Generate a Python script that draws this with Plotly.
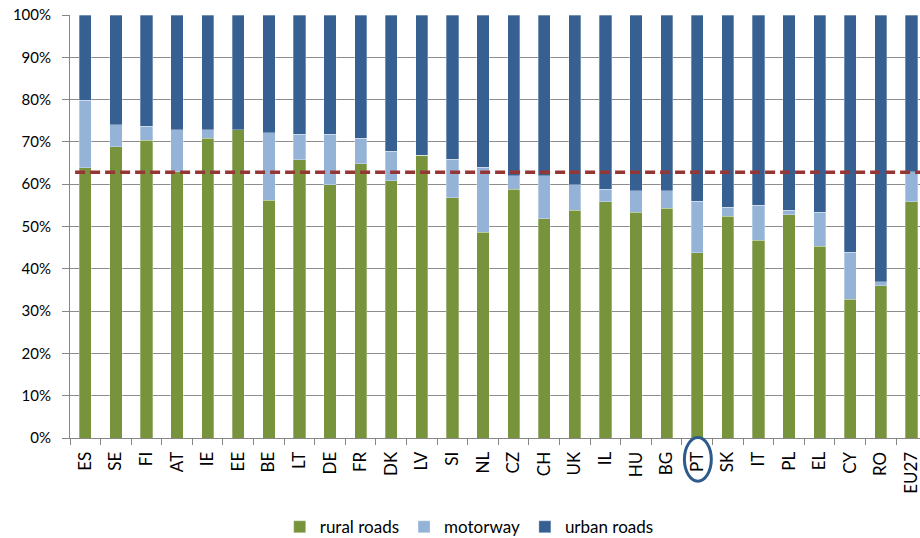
import plotly.graph_objects as go

countries = ["ES", "SE", "FI", "AT", "IE", "EE", "BE", "LT", "DE", "FR", "DK", "LV", "SI", "NL",
             "CZ", "CH", "UK", "IL", "HU", "BG", "PT", "SK", "IT", "PL", "EL", "CY", "RO", "EU27"]
rural = [63.9, 68.8, 70.4, 63.0, 70.9, 72.9, 56.2, 65.8, 59.9, 64.8, 60.8, 66.9, 56.8, 48.7,
         58.8, 51.8, 53.9, 55.8, 53.4, 54.3, 43.8, 52.4, 46.8, 52.8, 45.3, 32.8, 36.0, 55.8]
motorway_top = [79.9, 74.0, 73.7, 72.9, 72.9, 72.9, 72.2, 71.8, 71.8, 70.9, 67.8, 66.9, 65.9, 64.0,
                62.0, 62.0, 59.9, 58.8, 58.5, 58.4, 56.0, 54.6, 55.0, 53.9, 53.4, 43.9, 36.9, 62.9]
motorway = [round(t - r, 1) for t, r in zip(motorway_top, rural)]
urban = [round(100 - t, 1) for t in motorway_top]
eu_average = 62.8
highlight = "PT"

ytick_vals = [0, 10, 20, 30, 40, 50, 60, 70, 80, 90, 100]
ytick_text = [f"{v}%" for v in ytick_vals]

font = "Lato"
fig = go.Figure()
for name, vals, col in [("rural roads", rural, "#77933C"),
                        ("motorway", motorway, "#95B3D7"),
                        ("urban roads", urban, "#376092")]:
    fig.add_trace(go.Bar(x=countries, y=vals, name=name, width=0.4,
                         marker=dict(color=col, line=dict(color="rgba(255,255,255,0.6)", width=0.5))))

fig.add_shape(type="line", xref="paper", yref="y", x0=0.006, x1=1, y0=eu_average, y1=eu_average,
              line=dict(color="#963634", width=3.5, dash="10px,5px"), layer="above")

hi = countries.index(highlight)
fig.add_shape(type="circle", xref="x", yref="paper", x0=hi - 0.42, x1=hi + 0.46,
              y0=0.001, y1=-0.102, line=dict(color="#2E5B8C", width=3))

fig.update_layout(
    width=920, height=538,
    margin=dict(l=70, r=0, t=15, b=100),
    barmode="stack",
    plot_bgcolor="white", paper_bgcolor="white",
    font=dict(family=font, size=15, color="#000000"),
    showlegend=True,
    legend=dict(orientation="h", xref="container", yref="container", x=0.51, y=0.02,
                xanchor="center", yanchor="middle", font=dict(size=17, family=font),
                itemwidth=30, traceorder="normal"),
)
fig.update_xaxes(range=[-0.5, 27.28], tickangle=-90, showline=True, linecolor="#868686",
                 ticks="outside", tickson="boundaries", ticklen=6, tickcolor="#868686",
                 ticklabelstandoff=6,
                 showgrid=False, tickfont=dict(size=17, family=font))
fig.update_yaxes(range=[0, 100], tickvals=ytick_vals, ticktext=ytick_text, showline=True,
                 linecolor="#868686", ticks="outside", ticklen=7, tickcolor="#868686",
                 ticklabelstandoff=8,
                 showgrid=True, gridcolor="#8C8C8C", gridwidth=1, zeroline=False,
                 tickfont=dict(size=15, family=font))

fig.write_html("out.html")
